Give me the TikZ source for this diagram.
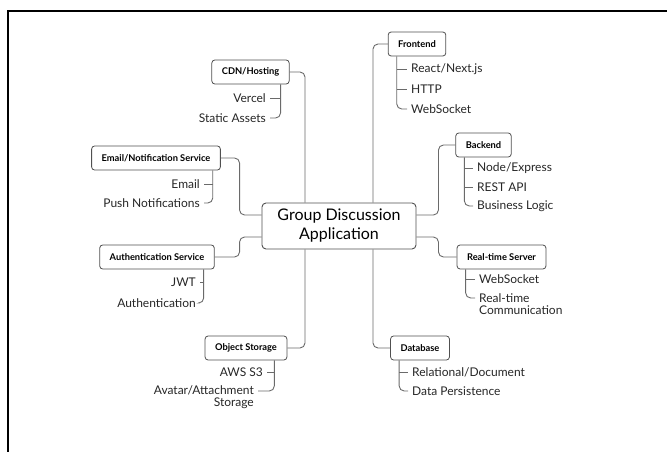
\documentclass[tikz,border=0pt]{standalone}
\usepackage{fontspec}
\setmainfont{Lato}
\usepackage{xcolor}
\usepackage{tikz}

\definecolor{linkgray}{HTML}{6A6A6A}
\definecolor{boxgray}{HTML}{505050}

\tikzset{
    link/.style={draw=linkgray, line width=0.9pt, rounded corners=5pt},
    cat/.style={draw=boxgray, line width=0.8pt, rounded corners=3pt, fill=white,
        minimum height=24pt, inner xsep=10pt, font=\fontsize{9.3}{11}\selectfont\bfseries},
    leaf/.style={inner sep=2pt, font=\fontsize{12}{12.5}\selectfont, text=black!85},
    hub/.style={draw=boxgray, line width=0.9pt, rounded corners=4pt, fill=white,
        minimum width=154pt, minimum height=46pt, align=center,
        font=\fontsize{16}{19}\selectfont}
}

\begin{document}
\begin{tikzpicture}[x=1pt,y=-1pt]
        \useasboundingbox (0,0) rectangle (667,452);
        % page frame
        \draw[line width=2pt] (8,452) -- (8,11) -- (667,11);

        % centre
        \node[hub] (app) at (339,226) {Group Discussion\\ Application};

        % main branches
        \node[cat] (fe) at (417,44) {Frontend};
        \node[cat] (be) at (483.5,145) {Backend};
        \node[cat] (rt) at (501.5,257) {Real-time Server};
        \node[cat] (db) at (420,348) {Database};
        \node[cat] (cdn) at (250.5,72) {CDN/Hosting};
        \node[cat] (mail) at (156,158) {Email/Notification Service};
        \node[cat] (auth) at (157,257) {Authentication Service};
        \node[cat] (obj) at (246,348) {Object Storage};

        \draw[link] ([xshift=34pt]app.north) |- (fe.west);
        \draw[link] ([yshift=11pt]app.east) -- ++(22,0) |- (be.west);
        \draw[link] ([yshift=-11pt]app.east) -- ++(22,0) |- (rt.west);
        \draw[link] ([xshift=34pt]app.south) |- (db.west);
        \draw[link] ([xshift=-34pt]app.north) |- (cdn.east);
        \draw[link] ([yshift=11pt]app.west) -- ++(-22,0) |- (mail.east);
        \draw[link] ([yshift=-11pt]app.west) -- ++(-22,0) |- (auth.east);
        \draw[link] ([xshift=-34pt]app.south) |- (obj.east);

        % leaves, right side
        \node[leaf,anchor=west] (fe1) at (409,69) {React/Next.js};
        \node[leaf,anchor=west] (fe2) at (409,89) {HTTP};
        \node[leaf,anchor=west] (fe3) at (409,109) {WebSocket};
        \node[leaf,anchor=west] (be1) at (475,168) {Node/Express};
        \node[leaf,anchor=west] (be2) at (475,187) {REST API};
        \node[leaf,anchor=west] (be3) at (475,206) {Business Logic};
        \node[leaf,anchor=west] (rt1) at (477,279) {WebSocket};
        \node[leaf,anchor=west,align=left] (rt2) at (477,304) {Real-time\\Communication};
        \node[leaf,anchor=west] (db1) at (410,372) {Relational/Document};
        \node[leaf,anchor=west] (db2) at (410,391) {Data Persistence};

        % leaves, left side
        \node[leaf,anchor=east] (cdn1) at (268,98) {Vercel};
        \node[leaf,anchor=east] (cdn2) at (268,118) {Static Assets};
        \node[leaf,anchor=east] (mail1) at (202,184) {Email};
        \node[leaf,anchor=east] (mail2) at (202,203) {Push Notifications};
        \node[leaf,anchor=east] (auth1) at (198,282) {JWT};
        \node[leaf,anchor=east] (auth2) at (198,303) {Authentication};
        \node[leaf,anchor=east] (obj1) at (265,372) {AWS S3};
        \node[leaf,anchor=east,align=right] (obj2) at (256,397) {Avatar/Attachment\\Storage};

        % leaf buses
        \draw[link] ([xshift=9pt]fe.south west) |- ([xshift=-2pt]fe3.west);
        \foreach \n in {fe1,fe2}
            \draw[link] ([xshift=9pt]fe.south west |- \n.west) -- ([xshift=-2pt]\n.west);
        \draw[link] ([xshift=9pt]be.south west) |- ([xshift=-2pt]be3.west);
        \foreach \n in {be1,be2}
            \draw[link] ([xshift=9pt]be.south west |- \n.west) -- ([xshift=-2pt]\n.west);
        \draw[link] ([xshift=9pt]rt.south west) |- ([xshift=-2pt,yshift=6pt]rt2.west);
        \draw[link] ([xshift=9pt]rt.south west |- rt1.west) -- ([xshift=-2pt]rt1.west);
        \draw[link] ([xshift=9pt]db.south west) |- ([xshift=-2pt]db2.west);
        \draw[link] ([xshift=9pt]db.south west |- db1.west) -- ([xshift=-2pt]db1.west);

        \draw[link] ([xshift=-9pt]cdn.south east) |- ([xshift=2pt]cdn2.east);
        \draw[link] ([xshift=-9pt]cdn.south east |- cdn1.east) -- ([xshift=2pt]cdn1.east);
        \draw[link] ([xshift=-8pt]mail.south east) |- ([xshift=2pt]mail2.east);
        \draw[link] ([xshift=-8pt]mail.south east |- mail1.east) -- ([xshift=2pt]mail1.east);
        \draw[link] ([xshift=-11pt]auth.south east) |- ([xshift=2pt]auth2.east);
        \draw[link] ([xshift=-11pt]auth.south east |- auth1.east) -- ([xshift=2pt]auth1.east);
        \draw[link] ([xshift=-13pt]obj.south east) |- ([xshift=2pt,yshift=6pt]obj2.east);
        \draw[link] ([xshift=-13pt]obj.south east |- obj1.east) -- ([xshift=2pt]obj1.east);
\end{tikzpicture}
\end{document}
